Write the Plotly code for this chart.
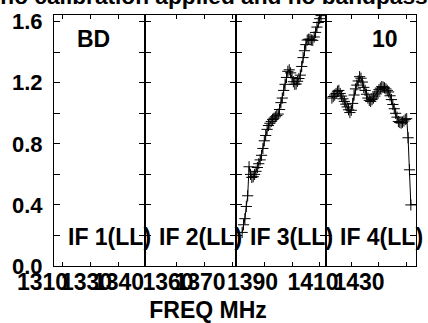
import plotly.graph_objects as go

# ---------------- data ----------------
TITLE = "no calibration applied and no bandpass"
X_TITLE = "FREQ MHz"
SOURCE = "BD"
BASELINE = "10"
IF_NAMES = ["IF 1(LL)", "IF 2(LL)", "IF 3(LL)", "IF 4(LL)"]

CHAN_WIDTH = 0.5          # MHz
IF3_START = 1372.0        # MHz, first plotted channel of IF 3
IF4_START = 1403.1        # MHz, first plotted channel of IF 4

IF3_AMP = [0.22, 0.27, 0.31, 0.39, 0.46, 0.65, 0.60, 0.58, 0.585, 0.60,
           0.62, 0.645, 0.67, 0.695, 0.725, 0.77, 0.82, 0.855, 0.895, 0.92,
           0.935, 0.947, 0.96, 0.968, 0.977, 0.985, 0.995, 1.025, 1.07, 1.10,
           1.15, 1.19, 1.235, 1.275, 1.285, 1.265, 1.235, 1.207, 1.19, 1.192,
           1.21, 1.228, 1.25, 1.307, 1.365, 1.41, 1.45, 1.48, 1.485, 1.486,
           1.48, 1.478, 1.50, 1.53, 1.565, 1.595, 1.62, 1.64]

IF4_AMP = [1.10, 1.11, 1.12, 1.13, 1.145, 1.15, 1.13, 1.113, 1.095, 1.078,
           1.06, 1.042, 1.023, 1.005, 1.02, 1.065, 1.12, 1.16, 1.185, 1.212,
           1.24, 1.23, 1.205, 1.17, 1.15, 1.125, 1.10, 1.085, 1.078, 1.09,
           1.10, 1.113, 1.127, 1.14, 1.155, 1.165, 1.175, 1.172, 1.167, 1.16,
           1.15, 1.14, 1.115, 1.09, 1.058, 1.03, 1.0, 0.975, 0.946, 0.94,
           0.936, 0.942, 0.95, 0.96, 0.965, 0.84, 0.63, 0.40]

Y_TICKS = [0.0, 0.2, 0.4, 0.6, 0.8, 1.0, 1.2, 1.4, 1.6]
Y_TICK_TEXT = ["0.0", "", "0.4", "", "0.8", "", "1.2", "", "1.6"]
X_TICKS = [[1310, 1320, 1330], [1350, 1360, 1370],
           [1380, 1390, 1400], [1410, 1420, 1430]]
FREQ_LABELS = ["1310", "1330", "1340", "1360", "1370", "1390", "1410", "1430"]

# ---------------- layout constants ----------------
W, H = 428, 323
PANEL_PX = [(54, 145.3), (145.3, 236), (236, 326.3), (326.3, 416)]
X_RANGES = [(1306.86, 1339.82), (1338.66, 1371.40),
            (1369.78, 1402.38), (1401.08, 1433.46)]
TOP_PX, BOT_PX = 15, 266
Y_RANGE = [0, 1.644]
LABEL_POS_PX = [42.5, 86.5, 118.5, 168, 200, 252.5, 313, 359]

FONT = "Liberation Sans, Arial, sans-serif"
NARROW = "Liberation Sans Narrow, Arial Narrow, Liberation Sans, sans-serif"

ydom = [(H - BOT_PX) / H, (H - TOP_PX) / H]


def ax_id(i):
    return "" if i == 0 else str(i + 1)


fig = go.Figure()

series = {0: (None, []), 1: (None, []), 2: (IF3_START, IF3_AMP), 3: (IF4_START, IF4_AMP)}
for i, (start, amp) in series.items():
    freq = [start + CHAN_WIDTH * k for k in range(len(amp))] if amp else []
    fig.add_trace(go.Scatter(
        x=freq, y=amp, mode="lines+markers",
        xaxis="x" + ax_id(i), yaxis="y" + ax_id(i),
        line=dict(color="black", width=1),
        marker=dict(symbol="cross-thin", size=8,
                    line=dict(color="black", width=1)),
        showlegend=False, hoverinfo="skip"))

# empty trace for the frequency-label axis
fig.add_trace(go.Scatter(x=[], y=[], xaxis="x5", yaxis="y5",
                         showlegend=False, hoverinfo="skip"))

layout = dict(
    width=W, height=H, autosize=False,
    margin=dict(l=0, r=0, t=0, b=0, pad=0, autoexpand=False),
    showlegend=False,
    paper_bgcolor="white", plot_bgcolor="rgba(0,0,0,0)",
    font=dict(family=FONT, color="black"),
    title=dict(text=TITLE, x=0.5, xanchor="center", xref="container",
               y=0.988, yanchor="bottom", yref="paper", pad=dict(b=0, t=0),
               automargin=False,
               font=dict(family=FONT, size=22.7, weight="bold", color="black")),
    annotations=[],
)

for i in range(4):
    sx = ax_id(i)
    dom = [PANEL_PX[i][0] / W, PANEL_PX[i][1] / W]
    layout["xaxis" + sx] = dict(
        domain=dom, range=list(X_RANGES[i]), anchor="y" + sx,
        tickvals=X_TICKS[i], ticks="inside", ticklen=4, tickwidth=1,
        tickcolor="black", showticklabels=False, automargin=False,
        showline=True, linecolor="black", linewidth=1, mirror="ticks",
        showgrid=False, zeroline=False)
    layout["yaxis" + sx] = dict(
        domain=ydom, range=Y_RANGE, anchor="x" + sx,
        tickvals=Y_TICKS, ticktext=Y_TICK_TEXT,
        ticks="inside", ticklen=6, tickwidth=1, tickcolor="black",
        showticklabels=(i == 0), automargin=False,
        tickfont=dict(family=FONT, size=22, weight="bold", color="black"),
        ticklabelstandoff=6,
        showline=True, linecolor="black", linewidth=1, mirror="ticks",
        showgrid=False, zeroline=False)
    layout["annotations"].append(dict(
        text=IF_NAMES[i], xref="x" + sx + " domain", yref="y" + sx + " domain",
        x=0.61, y=0.115, xanchor="center", yanchor="middle", showarrow=False,
        font=dict(family=FONT, size=23, weight="bold", color="black")))

layout["annotations"].append(dict(
    text=SOURCE, xref="x domain", yref="y domain", x=0.438, y=0.904,
    xanchor="center", yanchor="middle", showarrow=False,
    font=dict(family=FONT, size=23, weight="bold", color="black")))
layout["annotations"].append(dict(
    text=BASELINE, xref="x4 domain", yref="y4 domain", x=0.649, y=0.904,
    xanchor="center", yanchor="middle", showarrow=False,
    font=dict(family=FONT, size=23, weight="bold", color="black")))

# frequency label axis (labels only), in page-pixel units
layout["xaxis5"] = dict(
    domain=[0, 416 / W], range=[0, 416], anchor="y5",
    tickvals=LABEL_POS_PX, ticktext=FREQ_LABELS, ticks="", tickangle=0,
    ticklabelstandoff=0, automargin=False,
    tickfont=dict(family=NARROW, size=23, weight="bold", color="black"),
    showline=False, showgrid=False, zeroline=False,
    title=dict(text=X_TITLE, standoff=10,
               font=dict(family=FONT, size=23, weight="bold", color="black")))
layout["yaxis5"] = dict(domain=ydom, range=Y_RANGE, anchor="x5", visible=False,
                        automargin=False, showgrid=False, zeroline=False)

fig.update_layout(**layout)
fig.write_html("out.html",
               config={"displayModeBar": False},
               post_script="document.body.style.margin='0';")
